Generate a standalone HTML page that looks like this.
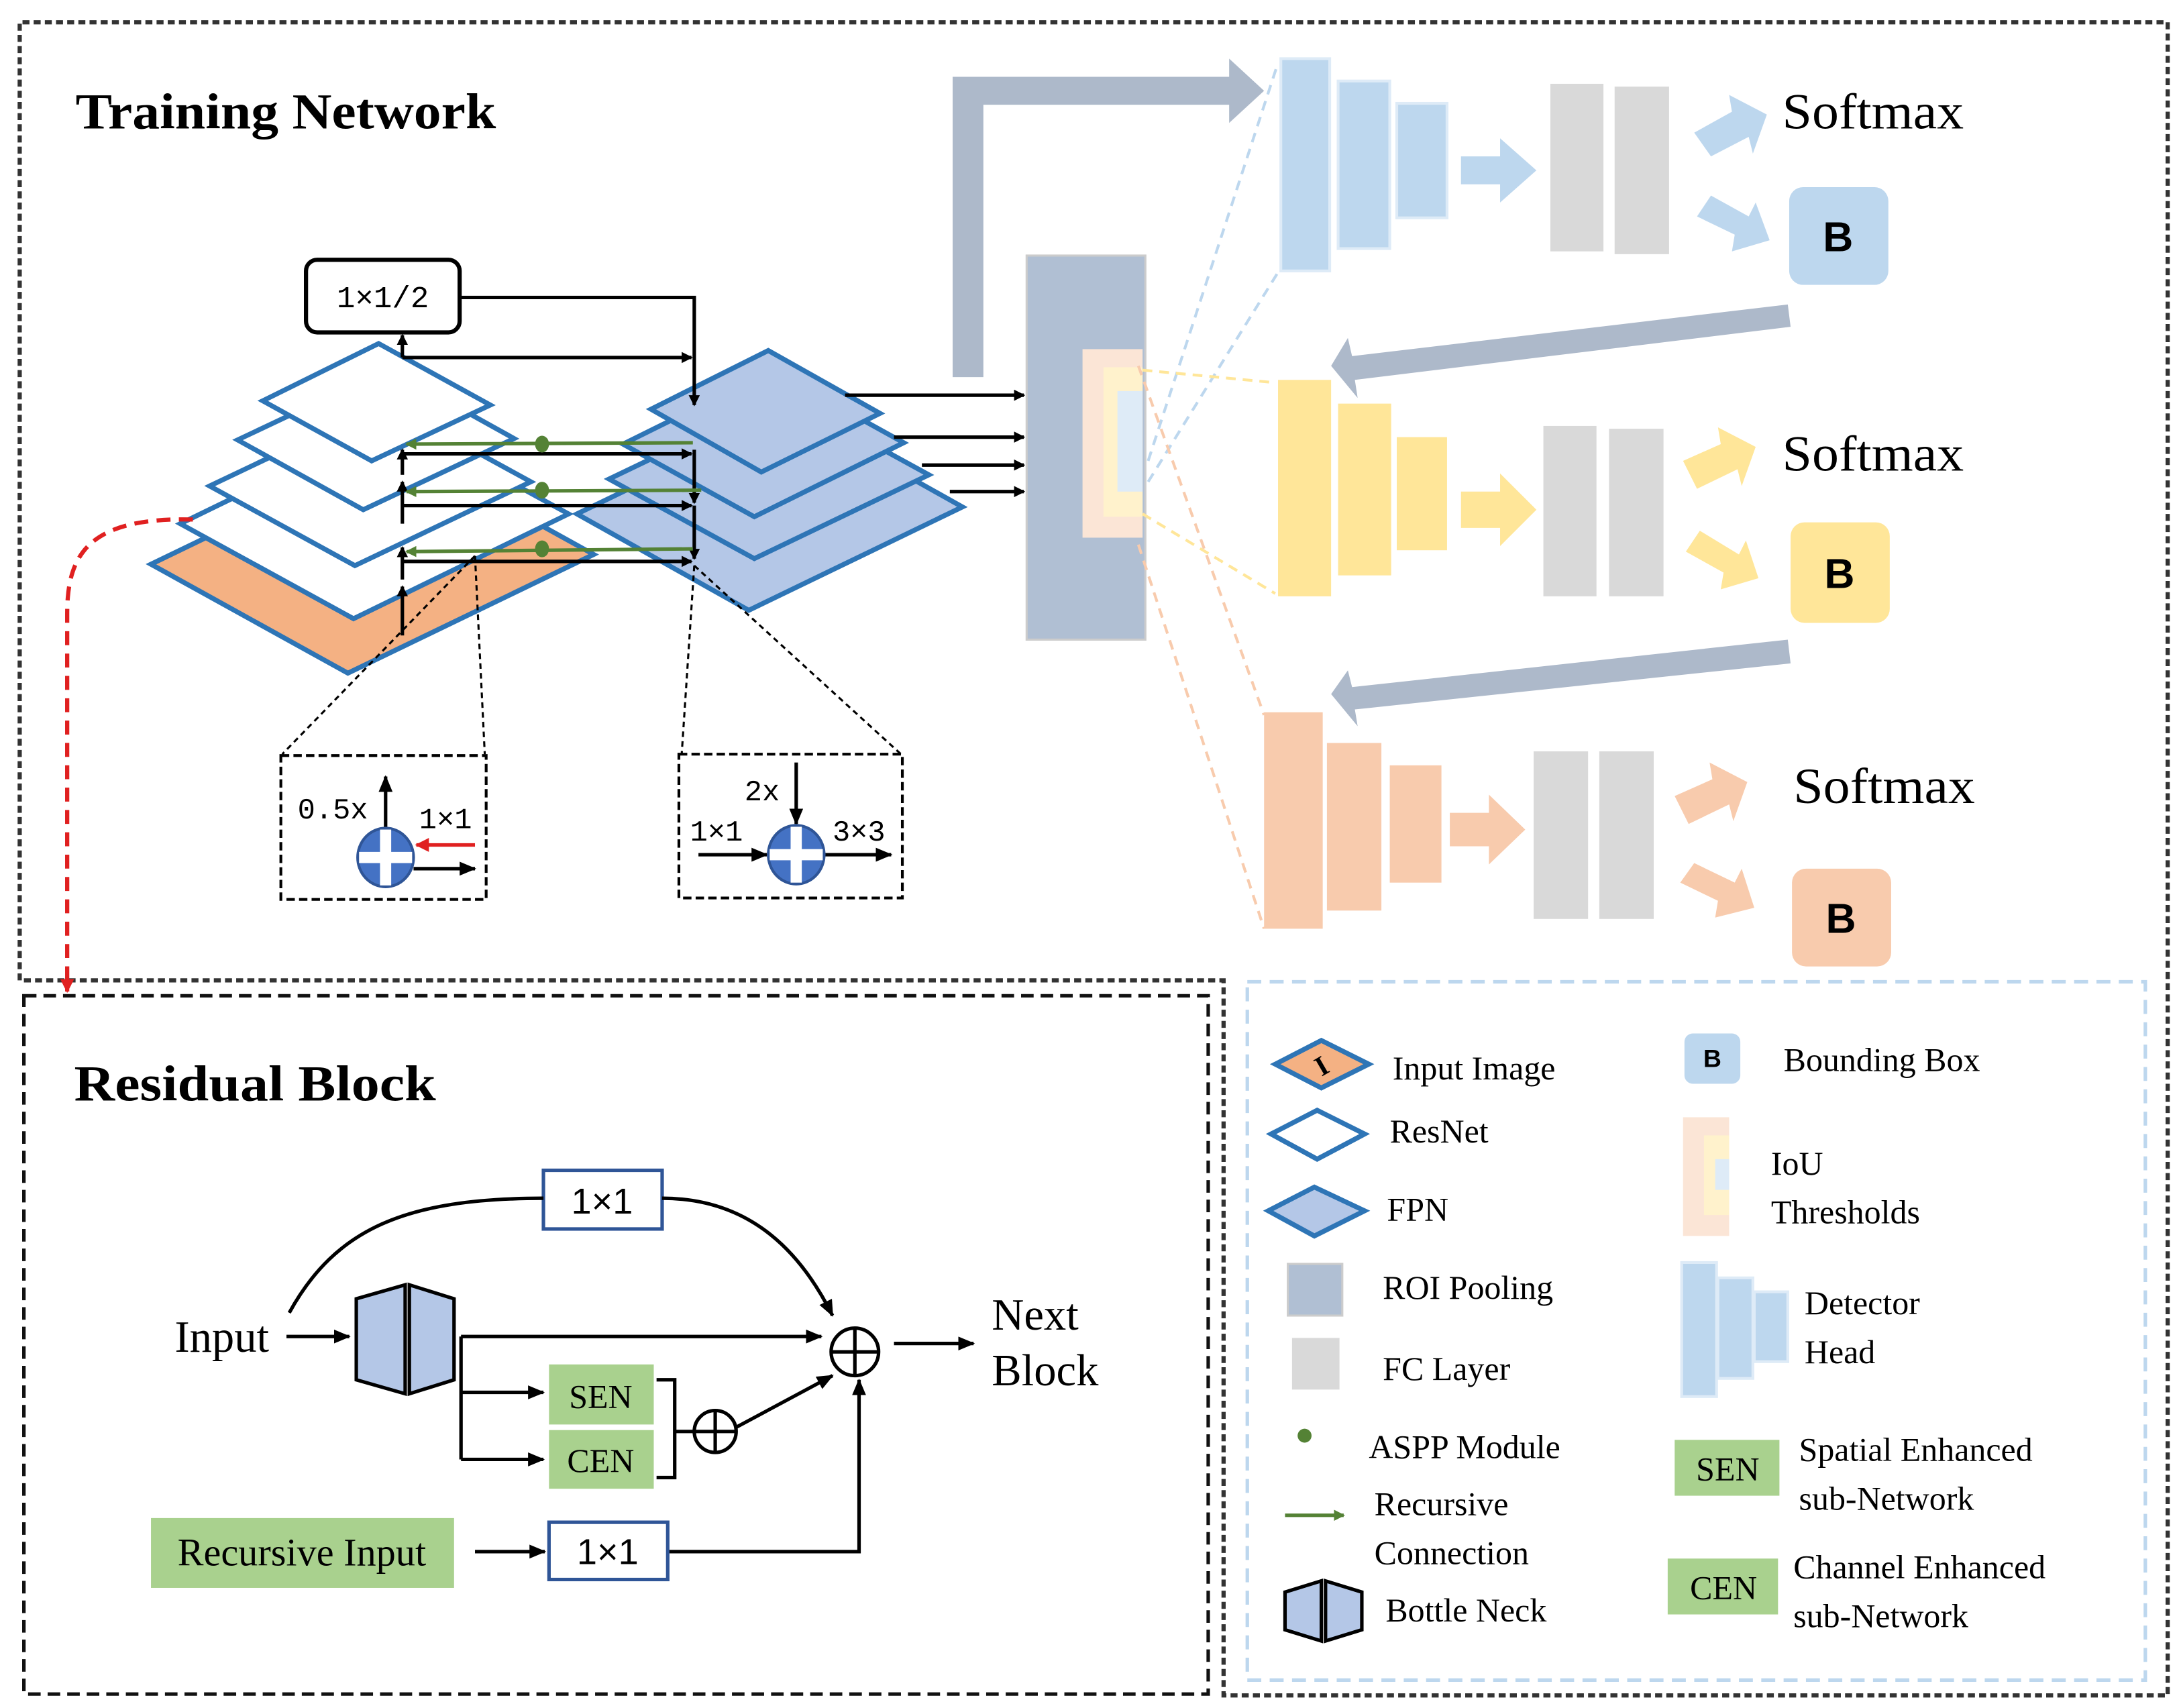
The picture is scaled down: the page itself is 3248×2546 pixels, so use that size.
<!DOCTYPE html>
<html><head><meta charset="utf-8"><style>
html,body{margin:0;padding:0;background:#fff}
svg{display:block}
.ser{font-family:"Liberation Serif",serif}
.mono{font-family:"Liberation Mono",monospace}
.sans{font-family:"Liberation Sans",sans-serif}
</style></head><body>
<svg width="3248" height="2546" viewBox="0 0 1560 1223" xmlns="http://www.w3.org/2000/svg">
<defs>
<marker id="ab" markerWidth="8" markerHeight="8" refX="7" refY="4" orient="auto" markerUnits="userSpaceOnUse"><path d="M0,0 L8,4 L0,8z" fill="#000"/></marker>
<marker id="abl" markerWidth="12" markerHeight="10" refX="11" refY="5" orient="auto" markerUnits="userSpaceOnUse"><path d="M0,0 L12,5 L0,10z" fill="#000"/></marker>
<marker id="ag" markerWidth="8" markerHeight="8" refX="7" refY="4" orient="auto" markerUnits="userSpaceOnUse"><path d="M0,0 L8,4 L0,8z" fill="#548235"/></marker>
<marker id="ar" markerWidth="10" markerHeight="10" refX="9" refY="5" orient="auto" markerUnits="userSpaceOnUse"><path d="M0,0 L10,5 L0,10z" fill="#e02020"/></marker>
</defs>

<g fill="none" stroke="#333" stroke-width="3" stroke-dasharray="5,3">
<path d="M14,702 L14,16 L1552,16 L1552,1214 L876,1214 L876,702 Z"/>
</g>
<rect x="17" y="713" width="848" height="500" fill="none" stroke="#111" stroke-width="2.5" stroke-dasharray="9,5"/>
<rect x="893" y="703" width="643" height="500" fill="none" stroke="#bdd7ee" stroke-width="2.5" stroke-dasharray="10,6"/>

<text x="54" y="92" class="ser" font-size="36" font-weight="bold" textLength="301" lengthAdjust="spacingAndGlyphs">Training Network</text>

<!-- ResNet planes -->
<g stroke="#2e75b6" stroke-width="3.5" stroke-linejoin="miter">
<polygon points="108,404 284,319 425,397 249,482" fill="#f4b183"/>
<polygon points="129,375 283,300 407,368 253,443" fill="#fff"/>
<polygon points="150,348 276,288 380,345 254,405" fill="#fff"/>
<polygon points="170,315 278,264 368,314 260,365" fill="#fff"/>
<polygon points="188,287 271,246 351,290 266,330" fill="#fff"/>
</g>
<!-- FPN planes -->
<g stroke="#2e75b6" stroke-width="3.5" fill="#b4c7e7">
<polygon points="413,368 566,294 689,363 536,437"/>
<polygon points="436,343 561,283 665,340 540,400"/>
<polygon points="446,318 553,265 647,317 540,370"/>
<polygon points="466,293 550,251 630,296 545,338"/>
</g>

<rect x="219" y="186" width="110" height="52" rx="8" fill="#fff" stroke="#000" stroke-width="3"/>
<text x="274" y="220" class="mono" font-size="22" text-anchor="middle">1×1/2</text>

<g stroke="#000" stroke-width="2.5" fill="none">
<path d="M329,213 L497,213 L497,290" marker-end="url(#ab)"/>
<path d="M288,256 L288,240" marker-end="url(#ab)"/>
<path d="M288,256 L495,256" marker-end="url(#ab)"/>
<path d="M288,455 L288,420" marker-end="url(#ab)"/>
<path d="M288,415 L288,392" marker-end="url(#ab)"/>
<path d="M288,375 L288,345" marker-end="url(#ab)"/>
<path d="M288,340 L288,322" marker-end="url(#ab)"/>
<path d="M288,325 L495,325" marker-end="url(#ab)"/>
<path d="M288,362 L495,362" marker-end="url(#ab)"/>
<path d="M288,402 L495,402" marker-end="url(#ab)"/>
<path d="M497,322 L497,360" marker-end="url(#ab)"/>
<path d="M497,362 L497,400" marker-end="url(#ab)"/>
<path d="M605,283 L733,283" marker-end="url(#ab)"/>
<path d="M640,313 L733,313" marker-end="url(#ab)"/>
<path d="M660,333 L733,333" marker-end="url(#ab)"/>
<path d="M680,352 L733,352" marker-end="url(#ab)"/>
</g>
<g stroke="#548235" stroke-width="2.5" fill="#548235">
<line x1="496" y1="317" x2="291" y2="318" marker-end="url(#ag)"/>
<line x1="502" y1="351" x2="291" y2="352" marker-end="url(#ag)"/>
<line x1="496" y1="393" x2="291" y2="395" marker-end="url(#ag)"/>
<ellipse cx="388" cy="318" rx="5" ry="6" stroke="none"/>
<ellipse cx="388" cy="351" rx="5" ry="6" stroke="none"/>
<ellipse cx="388" cy="393" rx="5" ry="6" stroke="none"/>
</g>

<g stroke="#000" stroke-width="1.5" fill="none" stroke-dasharray="4,3">
<line x1="340" y1="398" x2="202" y2="540"/><line x1="340" y1="398" x2="347" y2="540"/>
<line x1="497" y1="405" x2="488" y2="540"/><line x1="497" y1="405" x2="645" y2="540"/>
</g>
<g stroke="#000" stroke-width="2" fill="none" stroke-dasharray="6,3">
<rect x="201" y="541" width="147" height="103"/>
<rect x="486" y="540" width="160" height="103"/>
</g>
<g>
<text x="213" y="586" class="mono" font-size="21">0.5x</text>
<text x="300" y="593" class="mono" font-size="21">1×1</text>
<path d="M276,595 L276,556" stroke="#000" stroke-width="2.5" marker-end="url(#abl)"/>
<path d="M340,605 L298,605" stroke="#e02020" stroke-width="2.5" marker-end="url(#ar)"/>
<path d="M296,622 L340,622" stroke="#000" stroke-width="2.5" marker-end="url(#abl)"/>
<ellipse cx="276" cy="614" rx="20" ry="21" fill="#4472c4" stroke="#2f5597" stroke-width="2"/>
<rect x="272" y="594" width="8" height="40" fill="#fff"/><rect x="257" y="610" width="38" height="8" fill="#fff"/>

<text x="533" y="573" class="mono" font-size="21">2x</text>
<text x="494" y="602" class="mono" font-size="21">1×1</text>
<text x="596" y="602" class="mono" font-size="21">3×3</text>
<path d="M570,546 L570,590" stroke="#000" stroke-width="2.5" marker-end="url(#abl)"/>
<path d="M500,612 L549,612" stroke="#000" stroke-width="2.5" marker-end="url(#abl)"/>
<path d="M590,612 L638,612" stroke="#000" stroke-width="2.5" marker-end="url(#abl)"/>
<ellipse cx="570" cy="612" rx="20" ry="21" fill="#4472c4" stroke="#2f5597" stroke-width="2"/>
<rect x="566" y="592" width="8" height="40" fill="#fff"/><rect x="551" y="608" width="38" height="8" fill="#fff"/>
</g>

<path d="M138,372 C60,370 48,400 48,440 L48,710" fill="none" stroke="#e02020" stroke-width="3" stroke-dasharray="10,6" marker-end="url(#ar)"/>

<path d="M682,270 L682,55 L880,55 L880,42 L905,65 L880,88 L880,75 L704,75 L704,270 Z" fill="#adb9ca"/>

<rect x="735" y="183" width="85" height="275" fill="#b0bfd3" stroke="#ccc" stroke-width="1.5"/>
<rect x="775" y="250" width="43" height="135" fill="#fbe5d6"/>
<rect x="790" y="263" width="28" height="107" fill="#fff2cc"/>
<rect x="800" y="280" width="18" height="72" fill="#deebf7"/>

<g fill="none" stroke-width="2" stroke-dasharray="7,5">
<line x1="822" y1="330" x2="915" y2="45" stroke="#bdd7ee"/>
<line x1="822" y1="345" x2="915" y2="195" stroke="#bdd7ee"/>
<line x1="818" y1="265" x2="913" y2="274" stroke="#ffe699"/>
<line x1="818" y1="368" x2="913" y2="425" stroke="#ffe699"/>
<line x1="815" y1="262" x2="905" y2="512" stroke="#f8cbad"/>
<line x1="815" y1="390" x2="905" y2="665" stroke="#f8cbad"/>
</g>

<g fill="#bdd7ee" stroke="#deebf7" stroke-width="2">
<rect x="917" y="42" width="35" height="152"/><rect x="958" y="58" width="37" height="120"/><rect x="1000" y="74" width="36" height="82"/>
</g>
<path d="M1046,112 L1074,112 L1074,99 L1100,122 L1074,145 L1074,132 L1046,132Z" fill="#bdd7ee"/>
<rect x="1110" y="60" width="38" height="120" fill="#d9d9d9"/><rect x="1156" y="62" width="39" height="120" fill="#d9d9d9"/>
<path d="M1213,95 L1240,80 L1238,68 L1265,82 L1255,110 L1252,98 L1225,112Z" fill="#bdd7ee"/>
<path d="M1215,155 L1242,168 L1240,180 L1267,172 L1257,145 L1252,155 L1225,140Z" fill="#bdd7ee"/>
<text x="1276" y="92" class="ser" font-size="36" textLength="130" lengthAdjust="spacingAndGlyphs">Softmax</text>
<rect x="1281" y="134" width="71" height="70" rx="10" fill="#bdd7ee"/>
<text x="1316" y="180" class="sans" font-size="30" font-weight="bold" text-anchor="middle">B</text>

<path d="M1280,218 L1282,234 L970,272 L972,285 L953,262 L965,242 L968,255 Z" fill="#adb9ca"/>

<g fill="#ffe699"><rect x="915" y="272" width="38" height="155"/><rect x="958" y="289" width="38" height="123"/><rect x="1000" y="313" width="36" height="81"/></g>
<path d="M1046,352 L1074,352 L1074,339 L1100,365 L1074,391 L1074,378 L1046,378Z" fill="#ffe699"/>
<rect x="1105" y="305" width="38" height="122" fill="#d9d9d9"/><rect x="1152" y="307" width="39" height="120" fill="#d9d9d9"/>
<path d="M1205,330 L1232,318 L1230,306 L1257,320 L1247,348 L1244,336 L1215,350Z" fill="#ffe699"/>
<path d="M1207,395 L1234,410 L1232,422 L1259,414 L1250,387 L1245,397 L1217,380Z" fill="#ffe699"/>
<text x="1276" y="337" class="ser" font-size="36" textLength="130" lengthAdjust="spacingAndGlyphs">Softmax</text>
<rect x="1282" y="374" width="71" height="72" rx="10" fill="#ffe699"/>
<text x="1317" y="421" class="sans" font-size="30" font-weight="bold" text-anchor="middle">B</text>

<path d="M1280,458 L1282,475 L970,508 L972,520 L953,497 L965,480 L968,492 Z" fill="#adb9ca"/>

<g fill="#f8cbad"><rect x="905" y="510" width="42" height="155"/><rect x="950" y="532" width="39" height="120"/><rect x="995" y="548" width="37" height="84"/></g>
<path d="M1038,582 L1066,582 L1066,569 L1092,594 L1066,619 L1066,606 L1038,606Z" fill="#f8cbad"/>
<rect x="1098" y="538" width="39" height="120" fill="#d9d9d9"/><rect x="1145" y="538" width="39" height="120" fill="#d9d9d9"/>
<path d="M1199,570 L1226,558 L1224,546 L1251,560 L1241,588 L1238,576 L1209,590Z" fill="#f8cbad"/>
<path d="M1203,632 L1230,645 L1228,657 L1256,650 L1247,622 L1242,632 L1213,618Z" fill="#f8cbad"/>
<text x="1284" y="575" class="ser" font-size="36" textLength="130" lengthAdjust="spacingAndGlyphs">Softmax</text>
<rect x="1283" y="622" width="71" height="70" rx="10" fill="#f8cbad"/>
<text x="1318" y="668" class="sans" font-size="30" font-weight="bold" text-anchor="middle">B</text>

<!-- Residual block -->
<text x="53" y="788" class="ser" font-size="36" font-weight="bold" textLength="259" lengthAdjust="spacingAndGlyphs">Residual  Block</text>
<rect x="389" y="838" width="85" height="42" fill="#fff" stroke="#2f5597" stroke-width="2.5"/>
<text x="431" y="869" class="sans" font-size="26" text-anchor="middle">1×1</text>
<g stroke="#000" stroke-width="2.5" fill="none">
<path d="M207,940 C240,880 290,858 389,858"/>
<path d="M474,858 C540,858 575,900 596,942" marker-end="url(#abl)"/>
<path d="M205,957 L250,957" marker-end="url(#abl)"/>
<path d="M330,957 L588,957" marker-end="url(#abl)"/>
<path d="M330,957 L330,1045"/>
<path d="M330,997 L389,997" marker-end="url(#abl)"/>
<path d="M330,1045 L389,1045" marker-end="url(#abl)"/>
<path d="M470,988 L483,988 L483,1058 L470,1058"/>
<line x1="483" y1="1025" x2="497" y2="1025"/>
<path d="M527,1022 L596,985" marker-end="url(#abl)"/>
<path d="M640,962 L697,962" marker-end="url(#abl)"/>
<path d="M340,1111 L390,1111" marker-end="url(#abl)"/>
<path d="M478,1111 L615,1111 L615,988" marker-end="url(#abl)"/>
<circle cx="512" cy="1025" r="15"/><line x1="497" y1="1025" x2="527" y2="1025"/><line x1="512" y1="1010" x2="512" y2="1040"/>
<circle cx="612" cy="968" r="17"/><line x1="595" y1="968" x2="629" y2="968"/><line x1="612" y1="951" x2="612" y2="985"/>
</g>
<text x="125" y="968" class="ser" font-size="32">Input</text>
<g fill="#b4c7e7" stroke="#000" stroke-width="2.5">
<polygon points="255,930 290,920 290,998 255,988"/>
<polygon points="293,920 325,930 325,988 293,998"/>
</g>
<rect x="393" y="977" width="75" height="43" fill="#a9d18e"/>
<text x="430" y="1008" class="ser" font-size="24" text-anchor="middle">SEN</text>
<rect x="393" y="1024" width="75" height="42" fill="#a9d18e"/>
<text x="430" y="1054" class="ser" font-size="24" text-anchor="middle">CEN</text>
<text x="710" y="952" class="ser" font-size="32">Next</text>
<text x="710" y="992" class="ser" font-size="32">Block</text>
<rect x="108" y="1087" width="217" height="50" fill="#a9d18e"/>
<text x="216" y="1121" class="ser" font-size="28" text-anchor="middle">Recursive Input</text>
<rect x="393" y="1090" width="85" height="41" fill="#fff" stroke="#2f5597" stroke-width="2.5"/>
<text x="435" y="1120" class="sans" font-size="26" text-anchor="middle">1×1</text>

<!-- Legend -->
<g stroke="#2e75b6" stroke-width="3.5">
<polygon points="913,762 946,745 980,762 946,779" fill="#f4b183"/>
<polygon points="910,812 943,795 977,812 943,830" fill="#fff"/>
<polygon points="908,867 941,850 977,867 941,885" fill="#b4c7e7"/>
</g>
<text x="946" y="770" class="ser" font-size="20" font-weight="bold" text-anchor="middle" transform="rotate(-30 946 763)">I</text>
<rect x="922" y="905" width="39" height="37" fill="#b0bfd3" stroke="#ccc" stroke-width="1.5"/>
<rect x="925" y="958" width="34" height="37" fill="#d9d9d9"/>
<circle cx="934" cy="1028" r="5" fill="#548235"/>
<path d="M920,1085 L962,1085" stroke="#548235" stroke-width="2.5" marker-end="url(#ag)"/>
<g fill="#b4c7e7" stroke="#000" stroke-width="2.5">
<polygon points="920,1140 946,1132 946,1175 920,1167"/>
<polygon points="949,1132 975,1140 975,1167 949,1175"/>
</g>
<g class="ser" font-size="24">
<text x="997" y="773">Input Image</text>
<text x="995" y="818">ResNet</text>
<text x="993" y="874">FPN</text>
<text x="990" y="930">ROI Pooling</text>
<text x="990" y="988">FC Layer</text>
<text x="980" y="1044">ASPP  Module</text>
<text x="984" y="1085">Recursive</text>
<text x="984" y="1120">Connection</text>
<text x="992" y="1161">Bottle Neck</text>
<text x="1277" y="767">Bounding Box</text>
<text x="1268" y="841">IoU</text>
<text x="1268" y="876">Thresholds</text>
<text x="1292" y="941">Detector</text>
<text x="1292" y="976">Head</text>
<text x="1288" y="1046">Spatial Enhanced</text>
<text x="1288" y="1081">sub-Network</text>
<text x="1284" y="1130">Channel Enhanced</text>
<text x="1284" y="1165">sub-Network</text>
</g>
<rect x="1206" y="740" width="40" height="36" rx="6" fill="#bdd7ee"/>
<text x="1226" y="764" class="sans" font-size="18" font-weight="bold" text-anchor="middle">B</text>
<rect x="1205" y="800" width="33" height="85" fill="#fbe5d6"/>
<rect x="1220" y="813" width="18" height="57" fill="#fff2cc"/>
<rect x="1228" y="830" width="10" height="22" fill="#deebf7"/>
<g fill="#bdd7ee" stroke="#deebf7" stroke-width="2">
<rect x="1204" y="904" width="25" height="96"/><rect x="1230" y="915" width="25" height="72"/><rect x="1256" y="925" width="24" height="50"/>
</g>
<rect x="1199" y="1031" width="75" height="40" fill="#a9d18e"/>
<text x="1237" y="1060" class="ser" font-size="24" text-anchor="middle">SEN</text>
<rect x="1194" y="1116" width="79" height="40" fill="#a9d18e"/>
<text x="1234" y="1145" class="ser" font-size="24" text-anchor="middle">CEN</text>
</svg>
</body></html>
